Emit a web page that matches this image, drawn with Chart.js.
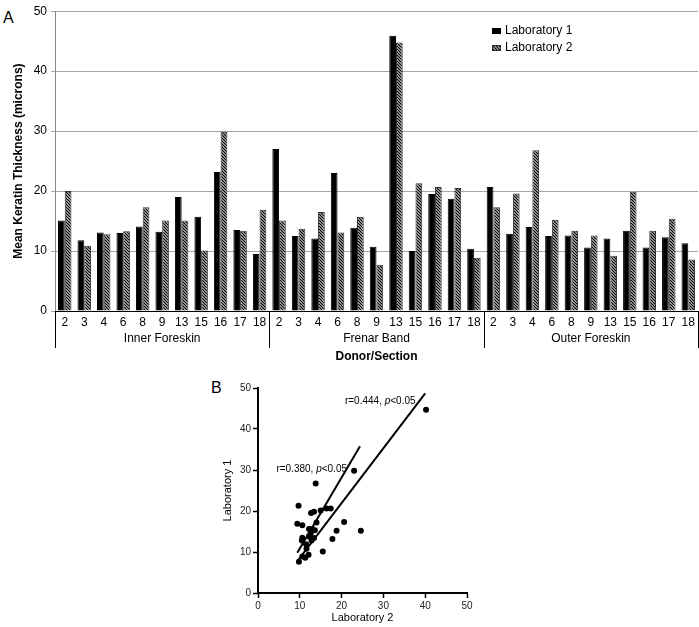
<!DOCTYPE html>
<html>
<head>
<meta charset="utf-8">
<script src="https://cdn.jsdelivr.net/npm/chart.js@4.4.0/dist/chart.umd.min.js"></script>
<style>
  html, body { margin: 0; padding: 0; background: #fff; }
  body { width: 699px; height: 627px; position: relative; overflow: hidden; font-family: "Liberation Sans", Arial, sans-serif; }
  canvas { position: absolute; }
  #chartA { left: 0; top: 0; }
  #chartB { left: 200px; top: 370px; }
  .panel { position: absolute; font-size: 16px; line-height: 16px; color: #000; }
</style>
</head>
<body>
<div class="panel" style="left:3px;top:10px">A</div>
<div class="panel" style="left:211px;top:380px">B</div>
<canvas id="chartA" width="699" height="366"></canvas>
<canvas id="chartB" width="300" height="257"></canvas>
<script>
// panel A data
const sections = ['Inner Foreskin', 'Frenar Band', 'Outer Foreskin'];
const donors = ['2', '3', '4', '6', '8', '9', '13', '15', '16', '17', '18'];
const lab1Inner  = [15.1, 11.8, 13.1, 13.0, 14.1, 13.2, 19.0, 15.7, 23.2, 13.5, 9.5];
const lab2Inner  = [20.0, 10.9, 12.8, 13.3, 17.3, 15.1, 15.1, 10.1, 29.9, 13.4, 16.9];
const lab1Frenar = [27.0, 12.5, 12.1, 23.0, 13.9, 10.7, 45.9, 10.0, 19.5, 18.7, 10.4];
const lab2Frenar = [15.1, 13.7, 16.5, 13.1, 15.7, 7.7, 44.8, 21.3, 20.7, 20.5, 8.9];
const lab1Outer  = [20.7, 12.9, 14.0, 12.5, 12.6, 10.6, 12.1, 13.4, 10.6, 12.3, 11.3];
const lab2Outer  = [17.3, 19.6, 26.8, 15.2, 13.4, 12.6, 9.2, 19.9, 13.4, 15.4, 8.6];
const yTicksA = [0, 10, 20, 30, 40, 50];

// panel B data (x = Laboratory 2, y = Laboratory 1)
const scatterLab2 = [40.2, 23.0, 13.8, 9.7, 9.4, 10.6, 12.7, 13.4, 15.0, 16.4, 17.4, 14.0, 20.6, 18.8, 24.6, 17.8, 15.5,
  12.2, 13.0, 12.6, 10.6, 10.5, 12.2, 12.8, 13.4, 11.6, 10.6, 11.3, 12.1, 9.8, 11.5, 13.6, 12.9];
const scatterLab1 = [44.7, 29.8, 26.7, 21.3, 16.9, 16.5, 19.5, 19.8, 20.1, 20.6, 20.6, 17.2, 17.3, 15.2, 15.2, 13.2, 10.1,
  15.6, 15.6, 14.6, 13.5, 12.8, 13.8, 12.8, 13.4, 10.8, 8.9, 8.6, 9.3, 7.6, 11.9, 15.3, 13.2];
const fit380X = [9.4, 24.4];
const fit380Y = [9.8, 35.8];
const fit444X = [9.6, 40.0];
const fit444Y = [8.0, 48.7];
const ticksB = [0, 10, 20, 30, 40, 50];

Chart.defaults.font.family = '"Liberation Sans", Arial, sans-serif';
Chart.defaults.color = '#000';

const labelsA = [...donors, ...donors, ...donors];
const lab1 = [...lab1Inner, ...lab1Frenar, ...lab1Outer];
const lab2 = [...lab2Inner, ...lab2Frenar, ...lab2Outer];

function hatch() {
  const c = document.createElement('canvas');
  c.width = 3; c.height = 3;
  const g = c.getContext('2d');
  g.fillStyle = '#fff';
  g.fillRect(0, 0, 3, 3);
  g.strokeStyle = '#000';
  g.lineWidth = 1.3;
  g.beginPath();
  g.moveTo(0, 0); g.lineTo(3, 3);
  g.moveTo(-1, 2); g.lineTo(1, 4);
  g.moveTo(2, -1); g.lineTo(4, 1);
  g.stroke();
  return g.createPattern(c, 'repeat');
}
const hatchFill = hatch();

// group dividers, section names and legend of the bar chart
const groupsPlugin = {
  id: 'groups',
  afterDraw(chart) {
    const { ctx } = chart;
    const x = chart.scales.x;
    const step = x.getPixelForValue(1) - x.getPixelForValue(0);
    const n = donors.length;
    ctx.save();
    ctx.strokeStyle = '#000';
    ctx.lineWidth = 1;
    for (let g = 0; g <= sections.length; g++) {
      const px = Math.round(x.getPixelForValue(g * n) - step / 2) + 0.5;
      ctx.beginPath();
      ctx.moveTo(px, x.top);
      ctx.lineTo(px, x.top + 37);
      ctx.stroke();
    }
    ctx.font = '12px "Liberation Sans", Arial, sans-serif';
    ctx.fillStyle = '#000';
    ctx.textAlign = 'center';
    ctx.textBaseline = 'middle';
    sections.forEach((s, g) => {
      const cx = (x.getPixelForValue(g * n) + x.getPixelForValue(g * n + n - 1)) / 2;
      ctx.fillText(s, cx, x.top + 28);
    });
    // legend
    ctx.textAlign = 'left';
    ctx.fillStyle = '#000';
    ctx.fillRect(492, 28, 9, 6);
    ctx.fillText('Laboratory 1', 505, 31);
    ctx.fillStyle = hatchFill;
    ctx.fillRect(492, 45, 9, 6);
    ctx.strokeStyle = '#333';
    ctx.strokeRect(492.5, 45.5, 8, 5);
    ctx.fillStyle = '#000';
    ctx.fillText('Laboratory 2', 505, 48);
    ctx.restore();
  }
};

new Chart(document.getElementById('chartA'), {
  type: 'bar',
  data: {
    labels: labelsA,
    datasets: [
      { label: 'Laboratory 1', data: lab1, backgroundColor: '#000', borderColor: '#000', borderWidth: 1,
        categoryPercentage: 0.69, barPercentage: 1.0 },
      { label: 'Laboratory 2', data: lab2, backgroundColor: hatchFill, borderColor: '#333', borderWidth: 1,
        categoryPercentage: 0.69, barPercentage: 1.0 }
    ]
  },
  options: {
    responsive: false, animation: false, devicePixelRatio: 1,
    layout: { padding: { left: 0, right: 1, top: 7, bottom: 0 } },
    plugins: { legend: { display: false }, tooltip: { enabled: false } },
    scales: {
      x: {
        grid: { display: false, drawTicks: false },
        border: { display: true, color: '#000', width: 1 },
        ticks: { font: { size: 12 }, padding: 4, maxRotation: 0, autoSkip: false },
        title: { display: true, text: 'Donor/Section', font: { size: 12, weight: 'bold' }, padding: { top: 0, bottom: 2 } },
        afterFit(s) { s.height = 55; }
      },
      y: {
        min: 0, max: 50,
        afterBuildTicks(s) { s.ticks = yTicksA.map(v => ({ value: v })); },
        grid: { color: '#a6a6a6', tickLength: 4, tickColor: '#a6a6a6' },
        border: { display: true, color: '#888', width: 1 },
        ticks: { font: { size: 12 }, padding: 4 },
        title: { display: true, text: 'Mean Keratin Thickness (microns)', font: { size: 12, weight: 'bold' }, padding: { top: 11, bottom: 0 } },
        afterFit(s) { s.width = 55; }
      }
    }
  },
  plugins: [groupsPlugin]
});

// r / p annotations on the scatter
const notesPlugin = {
  id: 'notes',
  afterDraw(chart) {
    const { ctx } = chart;
    const x = chart.scales.x, y = chart.scales.y;
    const notes = [
      { r: 'r=0.444, ', at: [20.8, 46.7] },
      { r: 'r=0.380, ', at: [4.4, 30.3] }
    ];
    const normal = '10px "Liberation Sans", Arial, sans-serif';
    ctx.save();
    ctx.fillStyle = '#000';
    ctx.textBaseline = 'middle';
    ctx.textAlign = 'left';
    notes.forEach(n => {
      let px = x.getPixelForValue(n.at[0]);
      const py = y.getPixelForValue(n.at[1]);
      ctx.font = normal;
      ctx.fillText(n.r, px, py);
      px += ctx.measureText(n.r).width;
      ctx.font = 'italic ' + normal;
      ctx.fillText('p', px, py);
      px += ctx.measureText('p').width;
      ctx.font = normal;
      ctx.fillText('<0.05', px, py);
    });
    ctx.restore();
  }
};

const axisB = (title, pad) => ({
  type: 'linear', min: 0, max: 50,
  afterBuildTicks(s) { s.ticks = ticksB.map(v => ({ value: v })); },
  grid: { display: true, drawOnChartArea: false, drawTicks: true, tickLength: 5, tickColor: '#000', tickWidth: 1.5 },
  border: { display: true, color: '#000', width: 2 },
  ticks: { font: { size: 10 }, padding: 2, color: '#222' },
  title: { display: true, text: title, font: { size: 11 }, padding: pad }
});

const scaleX = axisB('Laboratory 2', { top: 0, bottom: 2 });
scaleX.afterFit = s => { s.height = 34; };
const scaleY = axisB('Laboratory 1', { top: 21, bottom: 0 });
scaleY.afterFit = s => { s.width = 58; };

new Chart(document.getElementById('chartB'), {
  type: 'scatter',
  data: {
    datasets: [
      { data: scatterLab2.map((v, i) => ({ x: v, y: scatterLab1[i] })), backgroundColor: '#000', borderColor: '#000',
        pointRadius: 3, pointBorderWidth: 0 },
      { type: 'line', data: fit380X.map((v, i) => ({ x: v, y: fit380Y[i] })), borderColor: '#000', borderWidth: 2,
        pointRadius: 0, fill: false },
      { type: 'line', data: fit444X.map((v, i) => ({ x: v, y: fit444Y[i] })), borderColor: '#000', borderWidth: 2,
        pointRadius: 0, fill: false }
    ]
  },
  options: {
    responsive: false, animation: false, devicePixelRatio: 1,
    layout: { padding: { left: 0, right: 33, top: 18, bottom: 0 } },
    plugins: { legend: { display: false }, tooltip: { enabled: false } },
    scales: { x: scaleX, y: scaleY }
  },
  plugins: [notesPlugin]
});
</script>
</body>
</html>
